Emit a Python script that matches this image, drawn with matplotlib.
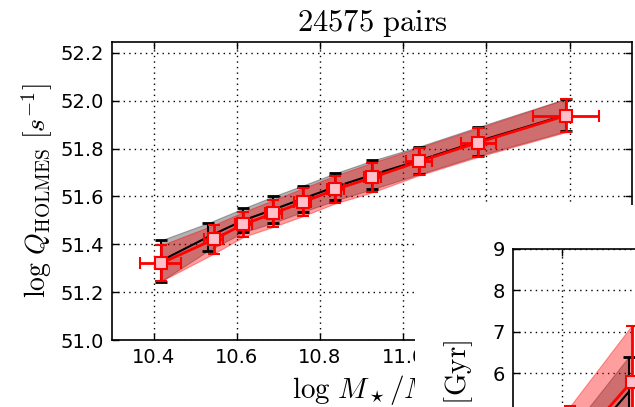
import numpy as np
import matplotlib
matplotlib.use('Agg')
from matplotlib import pyplot as plt
from matplotlib.patches import Rectangle

plt.rcParams['mathtext.fontset'] = 'cm'
plt.rcParams['font.family'] = 'DejaVu Sans'

# stellar mass bins and ionizing photon rate, two samples
mass_red = [10.417, 10.544, 10.616, 10.688, 10.758, 10.837, 10.926, 11.038, 11.18, 11.391]
q_red = [51.32, 51.42, 51.483, 51.529, 51.575, 51.629, 51.679, 51.746, 51.825, 51.9375]
q_red_err = [0.075, 0.06, 0.052, 0.056, 0.058, 0.058, 0.062, 0.058, 0.06, 0.069]
mass_red_err = [0.05, 0.022, 0.02, 0.02, 0.02, 0.02, 0.02, 0.031, 0.042, 0.08]

mass_blk = [10.417, 10.53, 10.616, 10.688, 10.758, 10.837, 10.926, 11.038, 11.18, 11.391]
q_blk = [51.33, 51.43, 51.50, 51.545, 51.59, 51.64, 51.69, 51.75, 51.83, 51.94]
q_blk_err = [0.086, 0.058, 0.05, 0.055, 0.055, 0.057, 0.06, 0.058, 0.06, 0.068]

# age panel (second row of the figure)
age_mass_red = [10.417, 10.544]
age_red = [4.1, 5.8]
age_red_err = [1.1, 1.35]
age_mass_blk = [10.417, 10.538]
age_blk = [3.9, 5.55]
age_blk_err = [0.7, 0.85]

W, H = 635, 407
fig = plt.figure(figsize=(W / 100.0, H / 100.0), dpi=100)


def px_axes(left, top, right, bottom):
    return [left / W, 1 - bottom / H, (right - left) / W, (bottom - top) / H]


def style(ax):
    ax.grid(True, color='k', linestyle=(0, (1, 3)), linewidth=1.0)
    ax.set_axisbelow(True)
    ax.tick_params(direction='in', top=True, right=True, length=5, width=1,
                   labelsize=14, pad=6)
    for s in ax.spines.values():
        s.set_linewidth(1.2)


def draw_pair(ax, xb, yb, eb, xr, yr, er, xer=None):
    xb, yb, eb = np.array(xb), np.array(yb), np.array(eb)
    xr, yr, er = np.array(xr), np.array(yr), np.array(er)
    ax.fill_between(xb, yb - eb, yb + eb, color='k', alpha=0.3, lw=0.8, zorder=2)
    ax.fill_between(xr, yr - er, yr + er, color='r', alpha=0.38, lw=0.8, zorder=2)
    ax.errorbar(xb, yb, yerr=eb, fmt='-', color='k', lw=1.5, elinewidth=1.5,
                capsize=4, capthick=2, zorder=3)
    ax.errorbar(xr, yr, yerr=er, xerr=xer, fmt='-s', color='r', lw=2,
                elinewidth=2, capsize=4, capthick=2, mfc='pink', mec='r',
                mew=1.5, ms=8, zorder=4)


ax = fig.add_axes(px_axes(112, 42, 632, 340))
style(ax)
draw_pair(ax, mass_blk, q_blk, q_blk_err, mass_red, q_red, q_red_err, mass_red_err)
ax.set_xlim(10.3, 11.55)
ax.set_ylim(51.0, 52.245)
ax.set_xticks(np.arange(10.4, 11.5, 0.2))
ax.set_yticks(np.arange(51.0, 52.3, 0.2))
ax.xaxis.set_major_formatter(matplotlib.ticker.FormatStrFormatter('%.1f'))
ax.yaxis.set_major_formatter(matplotlib.ticker.FormatStrFormatter('%.1f'))
ax.set_title(r'$\mathrm{24575\ pairs}$', fontsize=22, pad=8)
ax.set_ylabel(r'$\log\,Q_{\rm HOLMES}\ [s^{-1}]$', fontsize=20)
ax.set_xlabel(r'$\log\,M_\star/M_\odot$', fontsize=21)

# white background of the next panel covers part of this one
fig.patches.append(Rectangle((415 / W, 0), 1, 1 - 205 / H, transform=fig.transFigure,
                             facecolor='white', edgecolor='none', zorder=1))

ax2 = fig.add_axes(px_axes(513, 249, 513 + 608, 249 + 290))
ax2.set_zorder(2)
style(ax2)
draw_pair(ax2, age_mass_blk, age_blk, age_blk_err, age_mass_red, age_red, age_red_err)
ax2.set_xlim(10.3, 11.55)
ax2.set_ylim(2, 9)
ax2.set_xticks(np.arange(10.4, 11.5, 0.2))
ax2.set_yticks(np.arange(2, 10, 1))
ax2.set_ylabel(r'${\rm Age}\ [{\rm Gyr}]$', fontsize=21)
ax2.yaxis.set_label_coords(-0.062, 0.475)

fig.savefig('out.png', dpi=100)
